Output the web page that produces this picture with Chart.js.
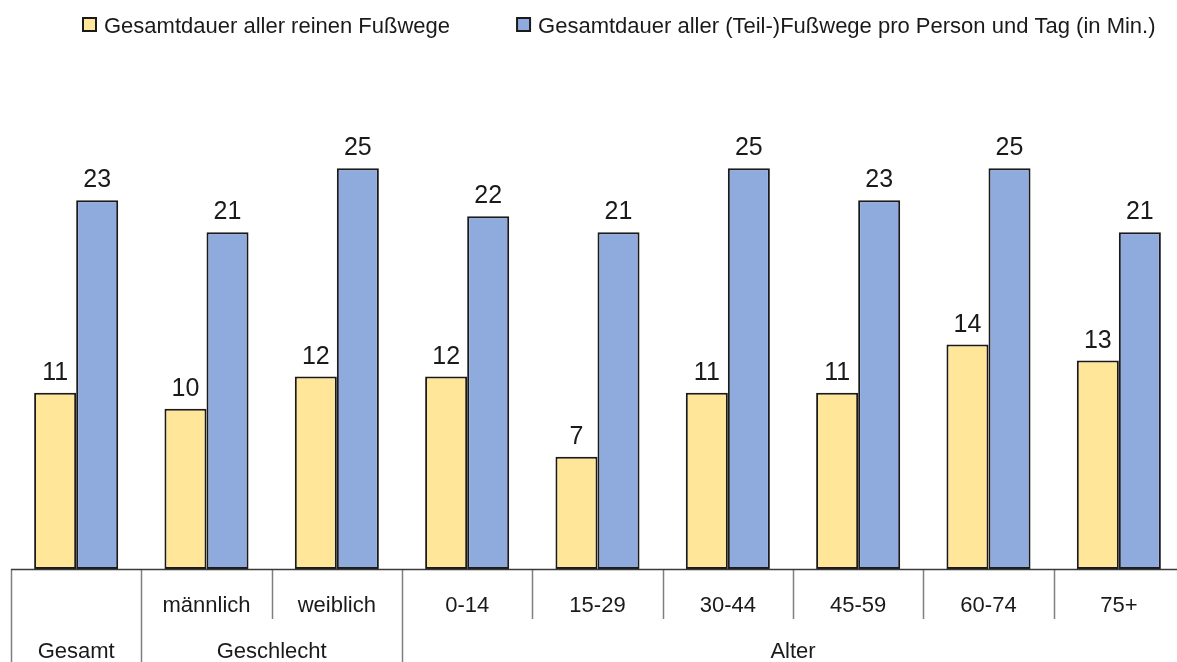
<!DOCTYPE html>
<html>
<head>
<meta charset="utf-8">
<script src="https://cdn.jsdelivr.net/npm/chart.js@4/dist/chart.umd.min.js"></script>
<style>
  html, body { margin: 0; padding: 0; background: #fff; overflow: hidden; }
  canvas { display: block; }
</style>
</head>
<body>
<canvas id="chart" width="1190" height="662"></canvas>
<script>
// Categories (first label row) and their grouping (second label row)
const categories = ['Gesamt', 'männlich', 'weiblich', '0-14', '15-29', '30-44', '45-59', '60-74', '75+'];
const subLabels = ['', 'männlich', 'weiblich', '0-14', '15-29', '30-44', '45-59', '60-74', '75+'];
const groupLabels = ['Gesamt', 'Geschlecht', 'Alter'];
const groupStarts = [0, 1, 3];
const groupEnds = [0, 2, 8];

// Minutes per person and day
const seriesNames = ['Gesamtdauer aller reinen Fußwege',
                     'Gesamtdauer aller (Teil-)Fußwege pro Person und Tag (in Min.)'];
const pureWalks = [11, 10, 12, 12, 7, 11, 11, 14, 13];
const allWalks = [23, 21, 25, 22, 21, 25, 23, 25, 21];

const FONT = "'Liberation Sans', Arial, sans-serif";
const TEXT = '#1a1a1a';

// Value labels above each bar
const valueLabels = {
  id: 'valueLabels',
  afterDatasetsDraw(chart) {
    const ctx = chart.ctx;
    ctx.save();
    ctx.font = '25px ' + FONT;
    ctx.fillStyle = TEXT;
    ctx.textAlign = 'center';
    ctx.textBaseline = 'alphabetic';
    chart.data.datasets.forEach((ds, di) => {
      chart.getDatasetMeta(di).data.forEach((bar, i) => {
        ctx.fillText(String(ds.data[i]), bar.x, bar.y - 13);
      });
    });
    ctx.restore();
  }
};

// Two-level category axis with separators
const groupedAxis = {
  id: 'groupedAxis',
  afterDraw(chart) {
    const ctx = chart.ctx;
    const xs = chart.scales.x;
    const area = chart.chartArea;
    const n = chart.data.labels.length;
    const step = xs.getPixelForValue(1) - xs.getPixelForValue(0);
    const edge = i => xs.getPixelForValue(i) - step / 2;
    const y0 = area.bottom;

    ctx.save();
    // separators
    ctx.strokeStyle = '#7f7f7f';
    ctx.lineWidth = 1.5;
    for (let i = 0; i <= n; i++) {
      const full = groupStarts.includes(i) || i === n;
      const x = Math.round(edge(i)) + 0.5;
      ctx.beginPath();
      ctx.moveTo(x, y0);
      ctx.lineTo(x, full ? chart.height : y0 + 50);
      ctx.stroke();
    }
    // axis line
    ctx.strokeStyle = '#3a3a3a';
    ctx.lineWidth = 1.5;
    ctx.beginPath();
    ctx.moveTo(area.left, y0 + 0.5);
    ctx.lineTo(chart.width, y0 + 0.5);
    ctx.stroke();

    ctx.font = '22px ' + FONT;
    ctx.fillStyle = TEXT;
    ctx.textAlign = 'center';
    ctx.textBaseline = 'alphabetic';
    subLabels.forEach((t, i) => {
      if (t) ctx.fillText(t, xs.getPixelForValue(i), y0 + 43);
    });
    groupLabels.forEach((t, g) => {
      const cx = (edge(groupStarts[g]) + edge(groupEnds[g] + 1)) / 2;
      ctx.fillText(t, cx, y0 + 89);
    });
    ctx.restore();
  }
};

// Legend row at the top
const topLegend = {
  id: 'topLegend',
  afterDraw(chart) {
    const ctx = chart.ctx;
    ctx.save();
    ctx.font = '22px ' + FONT;
    ctx.textBaseline = 'alphabetic';
    ctx.textAlign = 'left';
    let x = 83;
    chart.data.datasets.forEach(ds => {
      ctx.fillStyle = ds.backgroundColor;
      ctx.fillRect(x, 18, 13, 13);
      ctx.strokeStyle = '#1a1a1a';
      ctx.lineWidth = 2;
      ctx.strokeRect(x, 18, 13, 13);
      ctx.fillStyle = TEXT;
      ctx.fillText(ds.label, x + 21, 33);
      x += 21 + ctx.measureText(ds.label).width + 67;
    });
    ctx.restore();
  }
};

new Chart(document.getElementById('chart'), {
  type: 'bar',
  data: {
    labels: categories,
    datasets: [
      {
        label: seriesNames[0],
        data: pureWalks,
        backgroundColor: '#FFE699',
        borderColor: '#1a1a1a',
        borderWidth: 2,
        borderSkipped: false
      },
      {
        label: seriesNames[1],
        data: allWalks,
        backgroundColor: '#8FAADC',
        borderColor: '#1a1a1a',
        borderWidth: 2,
        borderSkipped: false
      }
    ]
  },
  options: {
    responsive: false,
    animation: false,
    layout: { padding: { left: 11, right: 6, top: 88, bottom: 93 } },
    datasets: { bar: { categoryPercentage: 0.645, barPercentage: 1.0 } },
    scales: {
      x: { display: false },
      y: { display: false, min: 0, max: 30 }
    },
    plugins: {
      legend: { display: false },
      tooltip: { enabled: false }
    }
  },
  plugins: [valueLabels, groupedAxis, topLegend]
});
</script>
</body>
</html>
